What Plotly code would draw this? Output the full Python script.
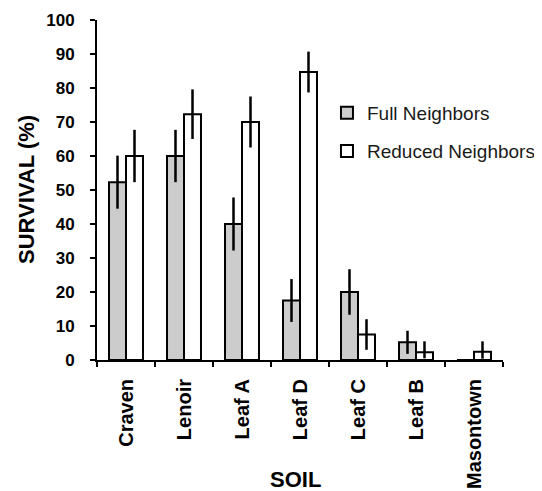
import plotly.graph_objects as go

soils = ["Craven", "Lenoir", "Leaf A", "Leaf D", "Leaf C", "Leaf B", "Masontown"]
full_vals = [52.3, 60, 40, 17.5, 20, 5.2, 0]
full_err = [7.8, 7.7, 7.8, 6.3, 6.7, 3.4, 0]
reduced_vals = [60, 72.3, 70, 84.7, 7.5, 2.3, 2.4]
reduced_err_plus = [7.7, 7.3, 7.5, 6.0, 4.5, 3.2, 3.1]
reduced_err_minus = [7.7, 7.3, 7.5, 6.0, 4.5, 1.8, 2.0]

FONT = "Arial, 'Liberation Sans', sans-serif"

fig = go.Figure()
fig.add_trace(go.Bar(
    x=soils, y=full_vals, name="Full Neighbors", legendgroup="a",
    marker=dict(color="#cccccc", line=dict(color="black", width=2)),
    error_y=dict(type="data", array=full_err, visible=True, color="black", thickness=2.5, width=0),
))
fig.add_trace(go.Bar(
    x=soils, y=reduced_vals, name="Reduced Neighbors", legendgroup="b",
    marker=dict(color="white", line=dict(color="black", width=2)),
    error_y=dict(type="data", array=reduced_err_plus, arrayminus=reduced_err_minus,
                 visible=True, color="black", thickness=2.5, width=0),
))

fig.update_layout(
    width=542, height=491,
    margin=dict(l=89, r=47, t=12, b=139, autoexpand=False),
    paper_bgcolor="white", plot_bgcolor="white",
    font=dict(family=FONT, color="black"),
    barmode="group", bargap=0.414, bargroupgap=0,
    showlegend=True,
    legend=dict(xref="container", yref="container", x=0.5885, y=0.825,
                xanchor="left", yanchor="top",
                font=dict(size=19, family=FONT, color="#1a1a1a"),
                bgcolor="rgba(0,0,0,0)", tracegroupgap=10.5),
    xaxis=dict(
        automargin=False,
        showline=True, linecolor="black", linewidth=2,
        ticks="outside", tickson="boundaries", ticklen=5, tickwidth=2, tickcolor="black",
        tickangle=-90, ticklabelstandoff=9,
        tickfont=dict(size=20, family=FONT, color="black", weight="bold"),
        showgrid=False, zeroline=False,
    ),
    yaxis=dict(
        automargin=False,
        range=[0, 100], dtick=10,
        showline=True, linecolor="black", linewidth=2,
        ticks="outside", ticklen=5, tickwidth=2, tickcolor="black",
        ticklabelstandoff=12,
        tickfont=dict(size=17, family=FONT, color="black", weight="bold"),
        showgrid=False, zeroline=False,
    ),
    annotations=[
        dict(text="<b>SOIL</b>", xref="paper", yref="paper", x=0.49, y=0,
             xanchor="center", yanchor="middle", yshift=-119, showarrow=False,
             font=dict(size=22, family=FONT, color="black")),
        dict(text="<b>SURVIVAL (%)</b>", xref="paper", yref="paper", x=0, y=0.5,
             xanchor="center", yanchor="middle", xshift=-71, textangle=-90, showarrow=False,
             font=dict(size=22, family=FONT, color="black")),
    ],
)

fig.write_html("out.html")
